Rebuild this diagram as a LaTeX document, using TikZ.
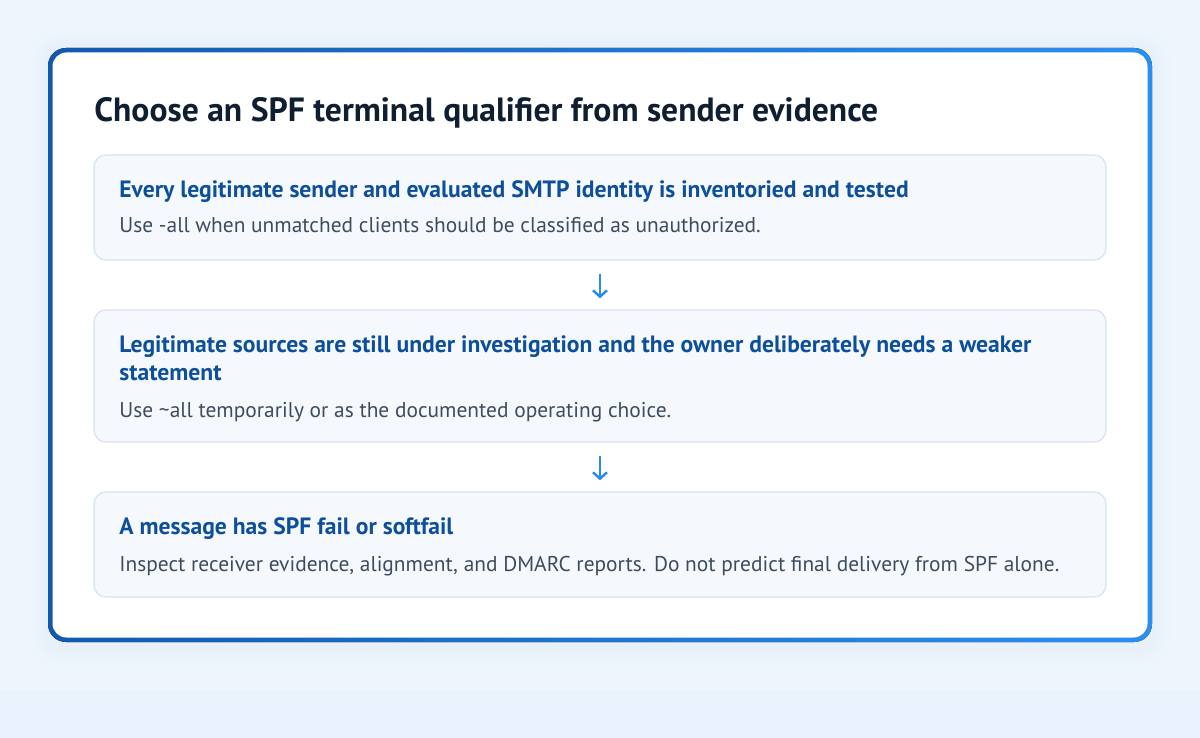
\documentclass[tikz,border=0pt]{standalone}
\usepackage{fontspec}
\setmainfont{PT Sans}
\usetikzlibrary{arrows.meta,positioning}

\definecolor{pagebg}{HTML}{EEF5FD}
\definecolor{pageband}{HTML}{EAF3FD}
\definecolor{glowblue}{HTML}{DCEAFA}
\definecolor{framedark}{HTML}{1259AE}
\definecolor{framelight}{HTML}{2A8FF0}
\definecolor{boxfill}{HTML}{F5F9FE}
\definecolor{boxline}{HTML}{D5E3F2}
\definecolor{headblue}{HTML}{0D4F9A}
\definecolor{bodygrey}{HTML}{3E4C5E}
\definecolor{titleink}{HTML}{0F1E30}
\definecolor{arrowblue}{HTML}{2B8BE6}

\tikzset{
  stepcard/.style={draw=boxline, line width=0.6pt, fill=boxfill,
    rounded corners=6pt, minimum width=506pt, inner sep=0pt},
  stephead/.style={anchor=base west, inner sep=0pt, text=headblue,
    font=\fontsize{11.8}{14}\selectfont\bfseries, align=left},
  stepbody/.style={anchor=base west, inner sep=0pt, text=bodygrey,
    font=\fontsize{10.7}{12}\selectfont},
  flowarrow/.style={draw=arrowblue, line width=1.25pt,
    -{Straight Barb[length=3.2pt,width=7pt]},
    shorten <=6.5pt, shorten >=5.5pt}
}

\begin{document}
\begin{tikzpicture}[x=0.5pt,y=-0.5pt]
  %%%%% PAGE %%%%%
  \useasboundingbox (0,0) rectangle (1200,738);
  \fill[pagebg] (0,0) rectangle (1200,738);
  \fill[pageband] (0,690) rectangle (1200,738);

  % soft glow round the card
  \foreach \g/\o in {18/0.08,12/0.1,6/0.14}
    \fill[glowblue, opacity=\o, rounded corners=12pt]
      (48-\g,48-\g) rectangle (1152+\g,642+\g+6);

  %%%%% CARD %%%%%
  \fill[left color=framedark, right color=framelight, rounded corners=9pt]
    (48,48) rectangle (1152,642);
  \fill[white, rounded corners=7pt] (52.5,52.5) rectangle (1147.5,637.5);

  \node[anchor=base west, inner sep=0pt, text=titleink,
    font=\fontsize{16.8}{20}\selectfont\bfseries] (title) at (94,122)
    {Choose an SPF terminal qualifier from sender evidence};

  %%%%% STEPS %%%%%
  \node[stepcard, minimum height=52.5pt] (strictcase) at (600,207.5) {};
  \node[stepcard, minimum height=66pt] (softcase) at (600,376) {};
  \node[stepcard, minimum height=52.5pt] (failcase) at (600,544.5) {};

  \node[stephead] (stricthead) at (119,198)
    {Every legitimate sender and evaluated SMTP identity is inventoried and tested};
  \node[stepbody] (strictbody) at (119,233)
    {Use -all when unmatched clients should be classified as unauthorized.};

  % two lines: base is the second line
  \node[stephead] (softhead) at (119,380)
    {Legitimate sources are still under investigation and the owner deliberately needs a weaker\\statement};
  \node[stepbody] (softbody) at (119,417)
    {Use \textasciitilde all temporarily or as the documented operating choice.};

  \node[stephead] (failhead) at (119,534)
    {A message has SPF fail or softfail};
  \node[stepbody] (failbody) at (119,571)
    {Inspect receiver evidence, alignment, and DMARC reports. Do not predict final delivery from SPF alone.};

  \draw[flowarrow] (strictcase) -- (softcase);
  \draw[flowarrow] (softcase) -- (failcase);
\end{tikzpicture}
\end{document}
